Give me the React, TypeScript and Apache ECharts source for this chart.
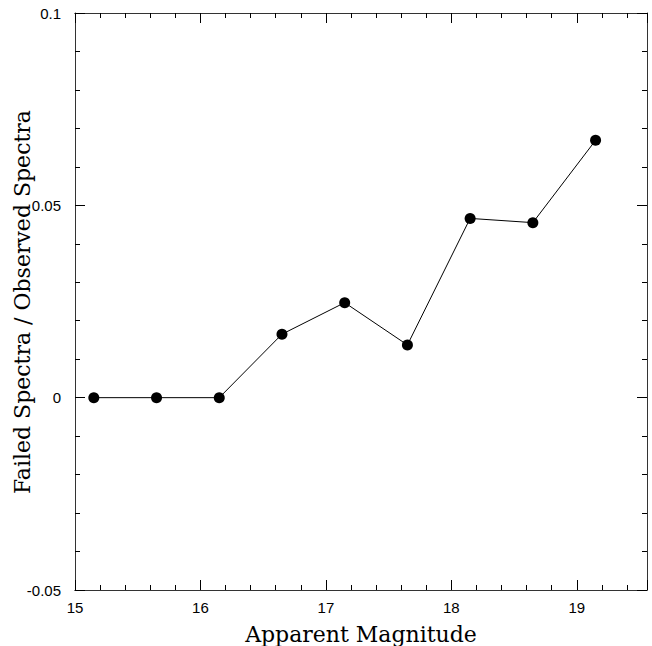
import React, { useEffect, useRef } from "react";
import * as echarts from "echarts";

const magnitudes = [15.15, 15.65, 16.15, 16.65, 17.15, 17.65, 18.15, 18.65, 19.15];
const failedRatio = [0, 0, 0, 0.0165, 0.0247, 0.0137, 0.0466, 0.0455, 0.0669];
const xRange = [15, 19.56];
const yRange = [-0.05, 0.1];
const xTitle = "Apparent Magnitude";
const yTitle = "Failed Spectra / Observed Spectra";

const LINE = "#333";
const labelFont = { fontFamily: "Liberation Sans", fontSize: 15, color: "#000" };
const titleFont = { fontFamily: "DejaVu Serif", fontSize: 22, color: "#000" };

function xAxis(pos: "bottom" | "top", interval: number, len: number, labels: boolean, name?: string) {
  return {
    type: "value",
    position: pos,
    min: xRange[0],
    max: xRange[1],
    interval,
    name: name || "",
    nameLocation: "middle",
    nameGap: 33,
    nameMoveOverlap: false,
    nameTextStyle: titleFont,
    axisLine: { show: true, onZero: false, lineStyle: { color: LINE, width: 1 } },
    axisTick: { show: true, inside: true, length: len, lineStyle: { color: "#000", width: 1 } },
    axisLabel: {
      show: labels,
      margin: 10,
      ...labelFont,
      formatter: (v: number) => (Math.abs(v - Math.round(v)) < 1e-6 ? String(Math.round(v)) : ""),
    },
    splitLine: { show: false },
  };
}

function yAxis(pos: "left" | "right", labels: boolean) {
  return {
    type: "value",
    position: pos,
    min: yRange[0],
    max: yRange[1],
    interval: 0.05,
    axisLine: { show: true, onZero: false, lineStyle: { color: LINE, width: 1 } },
    axisTick: { show: true, inside: true, length: 10, lineStyle: { color: "#000", width: 1 } },
    minorTick: { show: true, splitNumber: 5, length: 5, lineStyle: { color: "#000", width: 1 } },
    axisLabel: { show: labels, margin: 14, ...labelFont },
    splitLine: { show: false },
  };
}

export default function App() {
  const ref = useRef<HTMLDivElement>(null);
  useEffect(() => {
    if (!ref.current) return;
    const chart = echarts.init(ref.current, null, { renderer: "svg" });
    chart.setOption({
      animation: false,
      backgroundColor: "#fff",
      grid: {
        left: 75,
        top: 13,
        right: 5,
        bottom: 56,
        containLabel: false,
        outerBoundsMode: "none",
      },
      xAxis: [
        xAxis("bottom", 1, 10, true, xTitle),
        xAxis("bottom", 0.2, 5, false),
        xAxis("top", 1, 10, false),
        xAxis("top", 0.2, 5, false),
      ],
      yAxis: [yAxis("left", true), yAxis("right", false)],
      graphic: [
        {
          type: "text",
          x: 22,
          y: 302,
          rotation: Math.PI / 2,
          style: {
            text: yTitle,
            fontFamily: "DejaVu Serif",
            fontSize: 22,
            fill: "#000",
            align: "center",
            verticalAlign: "middle",
          },
        },
      ],
      series: [
        {
          type: "line",
          xAxisIndex: 0,
          yAxisIndex: 0,
          data: magnitudes.map((m, i) => [m, failedRatio[i]]),
          symbol: "circle",
          symbolSize: 11,
          itemStyle: { color: "#000" },
          lineStyle: { color: "#000", width: 1 },
        },
      ],
    });
    return () => chart.dispose();
  }, []);
  return (
    <div
      ref={ref}
      style={{ position: "fixed", left: 0, top: 0, width: 652, height: 646 }}
    />
  );
}
